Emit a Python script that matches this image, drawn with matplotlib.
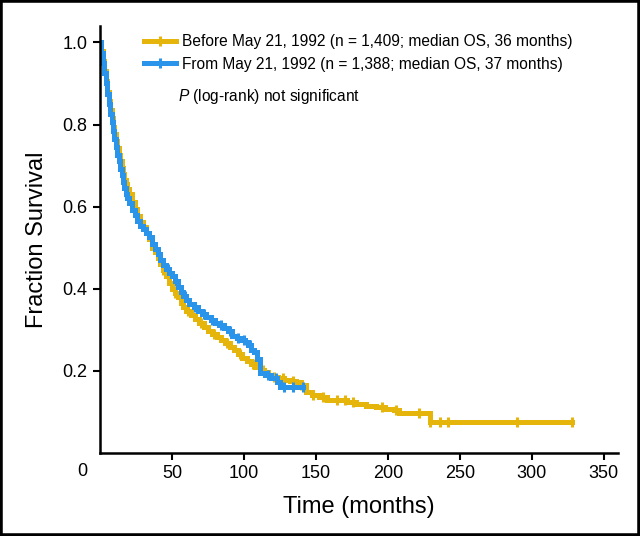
import numpy as np
import matplotlib
matplotlib.use("Agg")
import matplotlib.pyplot as plt
from matplotlib.lines import Line2D
from matplotlib.patches import Rectangle

plt.rcParams['font.family'] = ['Liberation Sans', 'DejaVu Sans']
plt.rcParams['mathtext.fontset'] = 'custom'
plt.rcParams['mathtext.it'] = 'Liberation Sans:italic'

# Kaplan-Meier estimates (months, fraction surviving)
before_t = [0, 1, 2, 3, 4, 5, 6, 7, 8, 9, 10, 11, 12, 13, 14, 15, 16, 17, 18, 19, 20,
            22, 24, 26, 28, 30, 32, 34, 36, 38, 40, 42, 44, 46, 48, 50, 52, 54, 56, 58,
            60, 63, 66, 69, 72, 75, 78, 81, 84, 87, 90, 93, 96, 99, 102, 105, 108, 111,
            114, 117, 120, 124, 128, 132, 136, 140, 143, 147, 152, 158, 165, 172, 178,
            185, 192, 198, 204, 208, 229, 328]
before_s = [1.0, 0.98, 0.955, 0.93, 0.905, 0.88, 0.857, 0.835, 0.815, 0.795, 0.778,
            0.76, 0.742, 0.726, 0.71, 0.695, 0.68, 0.666, 0.654, 0.642, 0.632,
            0.612, 0.595, 0.578, 0.562, 0.55, 0.535, 0.52, 0.50, 0.49, 0.475, 0.46,
            0.445, 0.43, 0.415, 0.40, 0.39, 0.38, 0.366, 0.356, 0.346, 0.336, 0.326,
            0.316, 0.306, 0.298, 0.29, 0.283, 0.275, 0.267, 0.259, 0.252, 0.24, 0.232,
            0.225, 0.216, 0.21, 0.203, 0.197, 0.19, 0.186, 0.182, 0.178, 0.176, 0.172,
            0.165, 0.148, 0.142, 0.137, 0.13, 0.128, 0.123, 0.12, 0.115, 0.113, 0.108,
            0.105, 0.097, 0.076, 0.076]
before_cens = [44, 52, 61, 70, 79, 88, 97, 106, 113, 121, 127, 134, 140, 148, 155,
               165, 170, 176, 196, 206, 222, 229, 236, 242, 290, 328]

from_t = [0, 1, 2, 3, 4, 5, 6, 7, 8, 9, 10, 11, 12, 13, 14, 15, 16, 17, 18, 19, 20,
          22, 24, 26, 28, 30, 32, 34, 36, 38, 40, 42, 44, 46, 48, 50, 52, 54, 56, 58,
          60, 62, 65, 68, 71, 74, 77, 80, 83, 86, 89, 92, 95, 98, 101, 103, 105, 107,
          109, 111, 115, 119, 123, 125, 141]
from_s = [1.0, 0.975, 0.95, 0.925, 0.9, 0.875, 0.85, 0.826, 0.805, 0.785, 0.765,
          0.745, 0.726, 0.71, 0.692, 0.676, 0.66, 0.645, 0.632, 0.62, 0.61,
          0.592, 0.58, 0.565, 0.553, 0.545, 0.535, 0.525, 0.51, 0.498, 0.485, 0.47,
          0.458, 0.448, 0.438, 0.43, 0.42, 0.405, 0.392, 0.382, 0.372, 0.364, 0.355,
          0.345, 0.338, 0.332, 0.325, 0.317, 0.312, 0.305, 0.296, 0.285, 0.28, 0.276,
          0.27, 0.262, 0.252, 0.245, 0.228, 0.196, 0.19, 0.182, 0.172, 0.161, 0.161]
from_cens = [41, 47, 53, 59, 66, 72, 78, 84, 90, 96, 100, 104, 117, 122, 128, 134, 141]

labels = ['Before May 21, 1992 (n = 1,409; median OS, 36 months)',
          'From May 21, 1992 (n = 1,388; median OS, 37 months)']
colors = ['#E5B50C', '#2A93EA']
xticks = [50, 100, 150, 200, 250, 300, 350]
yticks = [0.2, 0.4, 0.6, 0.8, 1.0]

fig = plt.figure(figsize=(6.4, 5.36), dpi=100)
ax = fig.add_axes([0.15625, 0.1549, 0.8094, 0.7966])

series = [(before_t, before_s, before_cens), (from_t, from_s, from_cens)]
for (t, s, cens), col, lab in zip(series, colors, labels):
    t = np.array(t, dtype=float)
    s = np.array(s, dtype=float)
    ax.plot(t, s, drawstyle='steps-post', color=col, lw=3.6, solid_joinstyle='miter')
    c = np.array(cens, dtype=float)
    idx = np.searchsorted(t, c, side='right') - 1
    ax.plot(c, s[idx], ls='none', marker='|', ms=7, mew=2.2, color=col)

ax.set_xlim(0, 360)
ax.set_ylim(0, 1.04)
ax.set_xticks(xticks)
ax.set_yticks(yticks)
ax.set_yticklabels([f'{v:.1f}' for v in yticks])
ax.tick_params(direction='out', length=5, width=1.5, labelsize=13, pad=4)
ax.text(-12.5, -0.043, '0', transform=ax.get_xaxis_transform(), ha='center',
        va='center', fontsize=13)
for side in ['top', 'right']:
    ax.spines[side].set_visible(False)
for side in ['left', 'bottom']:
    ax.spines[side].set_linewidth(1.8)

ax.set_xlabel('Time (months)', fontsize=17, labelpad=10)
ax.set_ylabel('Fraction Survival', fontsize=17, labelpad=10)

handles = [Line2D([], [], color=col, lw=3.6, marker='|', ms=7, mew=2.2) for col in colors]
ax.legend(handles, labels, loc='upper left', bbox_to_anchor=(0.215, 0.948),
          bbox_transform=fig.transFigure, frameon=False, fontsize=11.2,
          handlelength=2.1, handletextpad=0.35, labelspacing=0.5, borderaxespad=0)
fig.text(0.278, 0.82, '$P$ (log-rank) not significant', fontsize=11.2, va='center')

fig.patches.append(Rectangle((0, 0), 1, 1, transform=fig.transFigure, fill=False,
                             edgecolor='black', lw=4))

fig.savefig('out.png', dpi=100)
